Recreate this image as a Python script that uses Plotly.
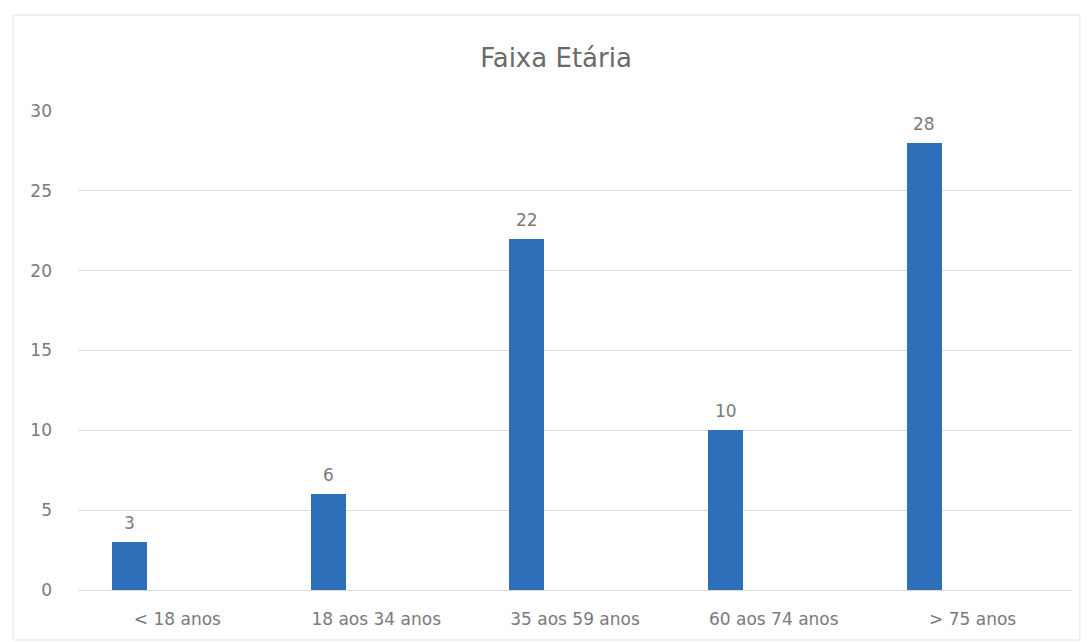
import plotly.graph_objects as go

categories = ["< 18 anos", "18 aos 34 anos", "35 aos 59 anos", "60 aos 74 anos", "> 75 anos"]
values = [3, 6, 22, 10, 28]
y_ticks = [0, 5, 10, 15, 20, 25, 30]
title = "Faixa Etária"

BAR_OFFSET = -0.33
BAR_WIDTH = 0.176
FONT = "'DejaVu Sans', sans-serif"
GREY = "#7a7a7a"

fig = go.Figure()
fig.add_trace(go.Bar(
    x=categories, y=values,
    marker=dict(color="#2d70b9", line=dict(width=0)),
    offset=BAR_OFFSET, width=BAR_WIDTH,
    hoverinfo="x+y",
))

for i, (c, v) in enumerate(zip(categories, values)):
    fig.add_annotation(
        x=i + BAR_OFFSET + BAR_WIDTH / 2, y=v, xref="x", yref="y",
        text=str(v), showarrow=False, yanchor="bottom", yshift=7,
        font=dict(family=FONT, size=17, color=GREY),
    )

# faint chart-area border
fig.add_shape(type="rect", xref="paper", yref="paper",
              x0=-65/994, x1=1.008, y0=-50/479, y1=1 + 96/479,
              line=dict(color="#e4e4e4", width=1))

fig.update_layout(
    width=1088, height=642,
    paper_bgcolor="white", plot_bgcolor="white",
    margin=dict(l=78, r=16, t=111, b=52),
    title=dict(text=title, x=556/1088, xanchor="center", y=1 - 58/642, yanchor="middle",
               yref="container", font=dict(family=FONT, size=26, color="#6a6a6a")),
    showlegend=False,
    bargap=0,
    font=dict(family=FONT, size=17, color=GREY),
)
fig.update_xaxes(
    type="category", range=[-0.5, 4.5],
    showgrid=False, showline=False, ticks="",
    ticklabelstandoff=17,
    tickfont=dict(family=FONT, size=17, color=GREY),
)
fig.update_yaxes(
    range=[0, 30], tickvals=y_ticks,
    showgrid=True, gridcolor="#dcdcdc", gridwidth=1,
    zeroline=True, zerolinecolor="#dcdcdc", zerolinewidth=1,
    showline=False, ticks="", ticklabelstandoff=25,
    tickfont=dict(family=FONT, size=17, color=GREY),
)

fig.write_html("out.html", config={"displayModeBar": False},
               post_script="document.body.style.margin='0px';")
